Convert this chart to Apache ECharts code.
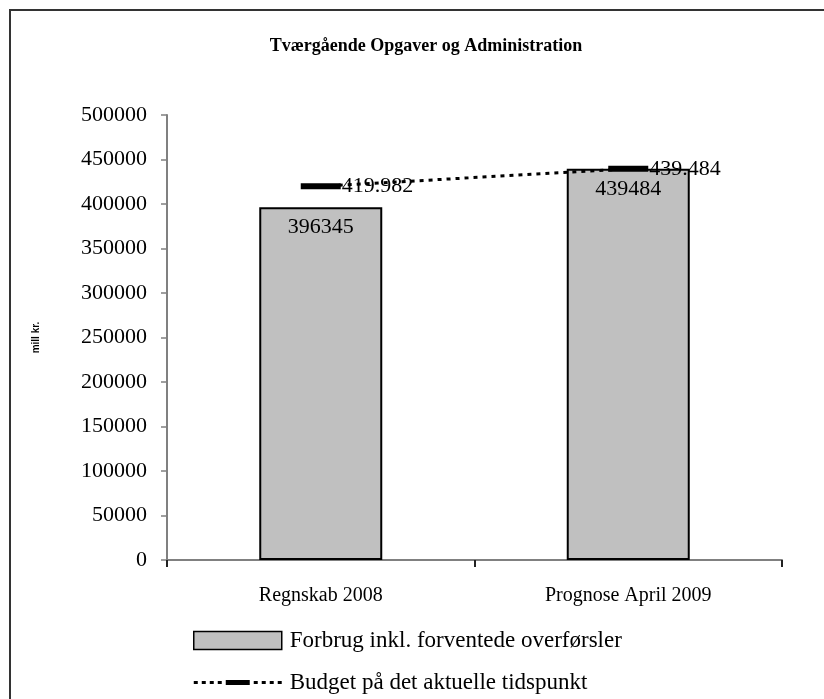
<!DOCTYPE html>
<html lang="da">
<head>
<meta charset="UTF-8">
<title>Tværgående Opgaver og Administration</title>
<script src="https://cdn.jsdelivr.net/npm/echarts@6/dist/echarts.min.js"></script>
<style>
  html, body { margin: 0; padding: 0; background: #fff; }
  #chart { width: 824px; height: 699px; }
</style>
</head>
<body>
<div id="chart"></div>
<script>
  var categories = ['Regnskab 2008', 'Prognose April 2009'];
  var forbrug = [396345, 439484];
  var budget = [419982, 439484];
  var yTicks = { min: 0, max: 500000, interval: 50000 };

  // dansk tusindtalsseparator: 419982 -> 419.982
  function dk(v) {
    return String(v).replace(/\B(?=(\d{3})+(?!\d))/g, '.');
  }

  // legend-ikon: prikket linje med tyk streg i midten (88 x 18)
  var budgetIcon = 'path://M0 0h0.01v0.01h-0.01z M88 18h0.01v0.01h-0.01z' +
    ' M0 7.5h4v3h-4z M8 7.5h4v3h-4z M16 7.5h4v3h-4z M24 7.5h4v3h-4z' +
    ' M32 6.5h24v5h-24z' +
    ' M60 7.5h4v3h-4z M68 7.5h4v3h-4z M76 7.5h4v3h-4z M84 7.5h4v3h-4z';

  var chart = echarts.init(document.getElementById('chart'));
  var serif = 'Liberation Serif, Times New Roman, serif';

  var option = {
    backgroundColor: '#fff',
    animation: false,
    title: {
      text: 'Tværgående Opgaver og Administration',
      left: 421,
      textAlign: 'center',
      top: 32,
      textStyle: { fontFamily: serif, fontSize: 18, fontWeight: 'bold', color: '#000' }
    },
    graphic: [{
      type: 'rect',
      shape: { x: 10, y: 10, width: 900, height: 800 },
      style: { fill: 'none', stroke: '#333', lineWidth: 2 },
      silent: true
    }],
    grid: { left: 167, right: 42, top: 115, bottom: 139 },
    legend: {
      orient: 'vertical',
      left: 188,
      top: 624,
      itemWidth: 88,
      itemHeight: 18,
      itemGap: 19,
      textStyle: { fontFamily: serif, fontSize: 23, color: '#000', padding: [0, 0, 0, 3] },
      data: [
        { name: 'Forbrug inkl. forventede overførsler', icon: 'rect',
          itemStyle: { color: '#c0c0c0', borderColor: '#000', borderWidth: 1.5 } },
        { name: 'Budget på det aktuelle tidspunkt', icon: budgetIcon,
          itemStyle: { color: '#000', borderWidth: 0 } }
      ]
    },
    xAxis: {
      type: 'category',
      data: categories,
      axisLine: { lineStyle: { color: '#808080', width: 2 } },
      axisTick: { show: true, length: 7, lineStyle: { color: '#222', width: 2 } },
      axisLabel: { margin: 26, fontFamily: serif, fontSize: 20, color: '#000' }
    },
    yAxis: {
      type: 'value',
      min: yTicks.min,
      max: yTicks.max,
      interval: yTicks.interval,
      name: 'mill kr.',
      nameLocation: 'middle',
      nameGap: 126,
      nameRotate: 90,
      nameTextStyle: { fontFamily: 'Liberation Sans, Arial, sans-serif', fontSize: 10, fontWeight: 'bold', color: '#000' },
      axisLine: { show: true, lineStyle: { color: '#808080', width: 2 } },
      axisTick: { show: true, length: 6, lineStyle: { color: '#808080', width: 1.5 } },
      splitLine: { show: false },
      axisLabel: {
        margin: 20, fontFamily: serif, fontSize: 22, color: '#000',
        formatter: function (v) { return String(v); }
      }
    },
    series: [
      {
        name: 'Forbrug inkl. forventede overførsler',
        type: 'bar',
        data: forbrug,
        barWidth: '40%',
        itemStyle: { color: '#c0c0c0', borderColor: '#000', borderWidth: 2 },
        label: {
          show: true,
          position: 'insideTop',
          distance: 9,
          fontFamily: serif,
          fontSize: 22,
          color: '#000'
        }
      },
      {
        name: 'Budget på det aktuelle tidspunkt',
        type: 'line',
        data: budget,
        symbol: 'rect',
        symbolSize: [40, 6],
        itemStyle: { color: '#000' },
        lineStyle: { color: '#000', width: 3, type: [4, 5] },
        label: {
          show: true,
          position: 'right',
          distance: 1,
          fontFamily: serif,
          fontSize: 22,
          color: '#000',
          formatter: function (p) { return dk(p.value); }
        },
        z: 5
      }
    ]
  };

  chart.setOption(option);
</script>
</body>
</html>
